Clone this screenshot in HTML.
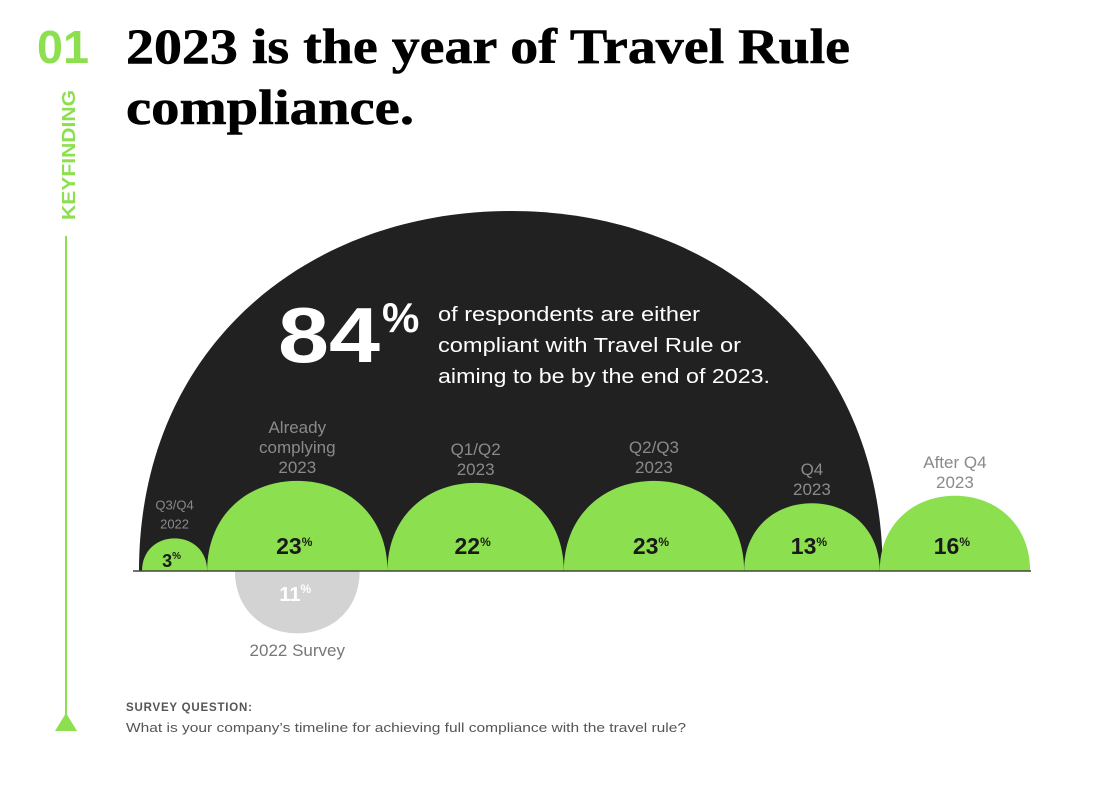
<!DOCTYPE html>
<html><head><meta charset="utf-8">
<style>
body{margin:0;background:#fff;width:1104px;height:784px;overflow:hidden;font-family:"Liberation Sans",sans-serif;}
.wrap{position:relative;width:1104px;height:784px;}
</style></head>
<body><div class="wrap">
<svg width="1104" height="784" viewBox="0 0 1104 784">
  <text x="37" y="63" font-family="Liberation Sans" font-weight="bold" font-size="46" fill="#8ce04f" textLength="52" lengthAdjust="spacingAndGlyphs">01</text>
  <text transform="translate(75,220) rotate(-90)" font-family="Liberation Sans" font-weight="bold" font-size="18" fill="#8ce04f" textLength="130" lengthAdjust="spacingAndGlyphs">KEYFINDING</text>
  <line x1="66" y1="236" x2="66" y2="716" stroke="#8ce04f" stroke-width="2"/>
  <polygon points="55,731 77,731 66,713" fill="#8ce04f"/>
  <text x="126" y="63" font-family="Liberation Serif" font-weight="bold" font-size="50" fill="#000" textLength="724" lengthAdjust="spacingAndGlyphs" stroke="#000" stroke-width="0.6">2023 is the year of Travel Rule</text>
  <text x="126" y="124" font-family="Liberation Serif" font-weight="bold" font-size="50" fill="#000" textLength="288" lengthAdjust="spacingAndGlyphs" stroke="#000" stroke-width="0.6">compliance.</text>
  <g id="marks"></g>
  <text x="126" y="711" font-family="Liberation Sans" font-weight="bold" font-size="11.5" fill="#555" letter-spacing="0.8">SURVEY QUESTION:</text>
  <text x="126" y="732" font-family="Liberation Sans" font-size="13" fill="#555" textLength="560" lengthAdjust="spacingAndGlyphs">What is your company’s timeline for achieving full compliance with the travel rule?</text>
</svg>
<script>
const categories = ["Q3/Q4|2022","Already|complying|2023","Q1/Q2|2023","Q2/Q3|2023","Q4|2023","After Q4|2023"];
const values = [3,23,22,23,13,16];
const inTotal = [true,true,true,true,true,false];
const prevValue = 11;
const prevLabel = "2022 Survey";
const totalValue = 84;

const NS="http://www.w3.org/2000/svg";
const g=document.getElementById('marks');
const baseY=571, x0=142, K=18.8;
const rOf=v=>K*Math.sqrt(v);
function mk(tag,attrs){const e=document.createElementNS(NS,tag);for(const k in attrs)e.setAttribute(k,attrs[k]);return e;}
function dome(cx,rx,ry,up){const s=up?-1:1;
  return `M${cx-rx},${baseY} C${cx-rx},${baseY+s*ry*0.62} ${cx-rx*0.55},${baseY+s*ry} ${cx},${baseY+s*ry} C${cx+rx*0.55},${baseY+s*ry} ${cx+rx},${baseY+s*ry*0.62} ${cx+rx},${baseY} Z`;}
let xs=[],x=x0;values.forEach(v=>{const r=rOf(v);xs.push(x+r);x+=2*r;});
let tl=x0,tr=x0;values.forEach((v,i)=>{if(inTotal[i])tr+=2*rOf(v);});
const tcx=(tl+tr)/2, trx=(tr-tl)/2;
const big=mk('path',{d:dome(tcx,trx+3,360,true),fill:'#212121'});


g.appendChild(big);
const pr=rOf(prevValue);
const grey=mk('path',{d:dome(xs[1],pr,pr,false),fill:'#d3d3d3'});


g.appendChild(grey);
const gt=mk('text',{x:xs[1]-2,y:baseY+30,'text-anchor':'middle','font-family':'Liberation Sans','font-weight':'bold','font-size':20,fill:'#fff'});
gt.innerHTML=prevValue+'<tspan font-size="12" dy="-8">%</tspan>';


g.appendChild(gt);
const gl=mk('text',{x:xs[1],y:baseY+85,'text-anchor':'middle','font-family':'Liberation Sans','font-size':17,fill:'#777'});
gl.textContent=prevLabel;


g.appendChild(gl);
values.forEach((v,i)=>{
  const r=rOf(v);
  const p=mk('path',{d:dome(xs[i],r,r,true),fill:'#8ce04f'});
  
  
  g.appendChild(p);
  const small=v<5;
  const t=mk('text',{x:xs[i]-3,y:baseY-(small?4:17),'text-anchor':'middle','font-family':'Liberation Sans','font-weight':'bold','font-size':small?18:23,fill:'#1a1a1a'});
  t.innerHTML=v+'<tspan font-size="'+(small?10:12)+'" dy="-8">%</tspan>';
  
  
  g.appendChild(t);
  const lines=categories[i].split('|');
  const fs=small?13:17, lh=small?19:20;
  const top=baseY-r-(small?10:8)-(lines.length-1)*lh;
  lines.forEach((ln,j)=>{
    const c=mk('text',{x:xs[i],y:top+j*lh,'text-anchor':'middle','font-family':'Liberation Sans','font-size':fs,fill:'#8a8a8a'});
    c.textContent=ln;
    
    
    g.appendChild(c);
  });
});
const axis=mk('line',{x1:133,y1:baseY,x2:1031,y2:baseY,stroke:'#444','stroke-width':1.5});


g.appendChild(axis);
const bt=mk('text',{x:278,y:362,'font-family':'Liberation Sans','font-weight':'bold','font-size':78,fill:'#fff'});
bt.innerHTML='<tspan textLength="102" lengthAdjust="spacingAndGlyphs">'+totalValue+'</tspan><tspan font-size="42" dx="2" dy="-30">%</tspan>';


g.appendChild(bt);
const desc=["of respondents are either","compliant with Travel Rule or","aiming to be by the end of 2023."];
const descW=[262,303,332];
desc.forEach((s,j)=>{
  const t=mk('text',{x:438,y:321+j*31,'font-family':'Liberation Sans','font-size':20,fill:'#fff',textLength:descW[j],lengthAdjust:'spacingAndGlyphs'});
  t.textContent=s;
  
  
  g.appendChild(t);
});
</script>
</div></body></html>
